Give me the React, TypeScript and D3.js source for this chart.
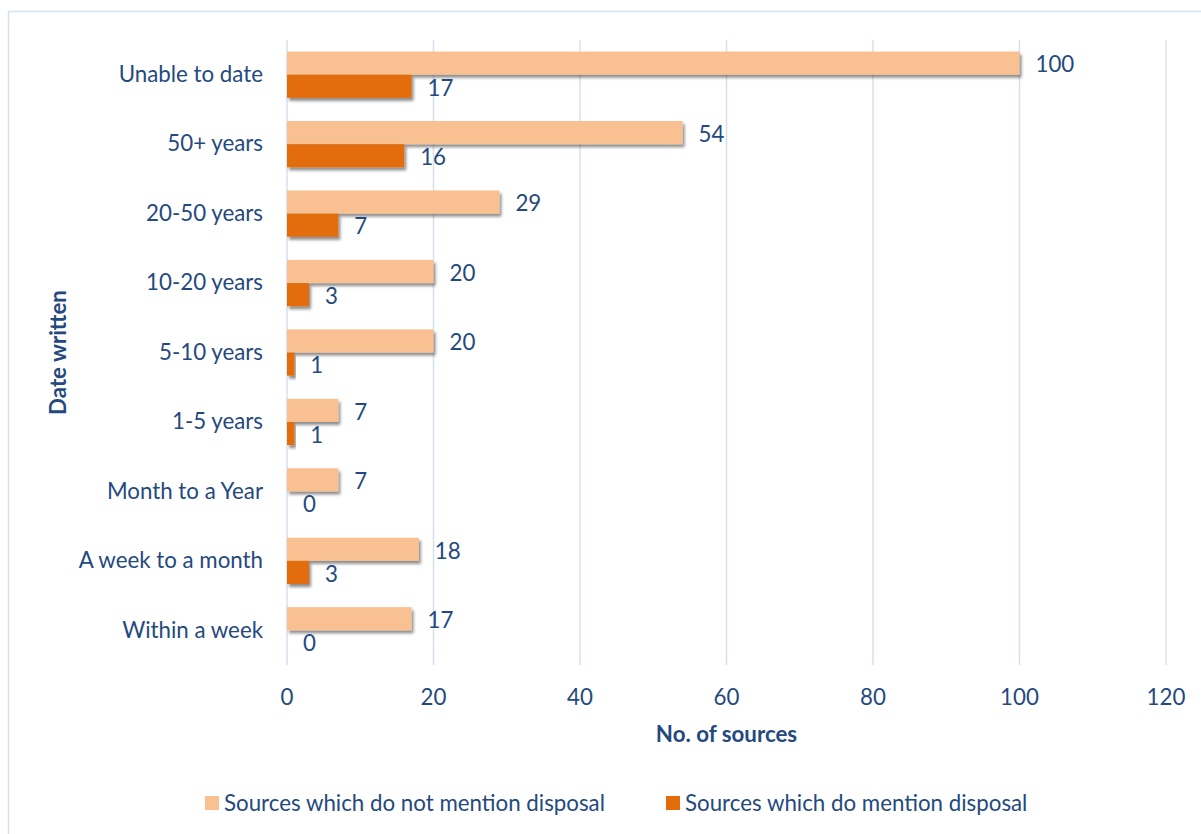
import React from "react";
import * as d3 from "d3";

const categories = [
  "Unable to date",
  "50+ years",
  "20-50 years",
  "10-20 years",
  "5-10 years",
  "1-5 years",
  "Month to a Year",
  "A week to a month",
  "Within a week",
];
const notMention = [100, 54, 29, 20, 20, 7, 7, 18, 17];
const doMention = [17, 16, 7, 3, 1, 1, 0, 3, 0];
const xTicks = [0, 20, 40, 60, 80, 100, 120];
const seriesNames = ["Sources which do not mention disposal", "Sources which do mention disposal"];

const W = 1201;
const H = 834;
const FONT = "Lato, 'Open Sans', sans-serif";
const FS = 22.3;
const TEXT = "#24497e";
const LIGHT = "#f9c091";
const DARK = "#e36c0a";
const GRID = "#d6e1f0";

export default function App() {
  const left = 287;
  const right = 1166;
  const top = 40;
  const bottom = 665;
  const x = d3.scaleLinear().domain([0, 120]).range([left, right]);
  const y = d3.scaleBand().domain(categories).range([top, bottom]).paddingInner(0).paddingOuter(0);
  const bw = y.bandwidth();
  const barH = bw / 3;
  const inner = d3.scaleBand().domain(["a", "b"]).range([bw / 6, bw - bw / 6]);

  return (
    <svg width={W} height={H} style={{ position: "absolute", left: 0, top: 0 }}>
      <defs>
        <filter id="sh" x="-10%" y="-50%" width="130%" height="250%">
          <feGaussianBlur in="SourceAlpha" stdDeviation="1.8" />
          <feOffset dx="2" dy="3" result="ob" />
          <feComponentTransfer>
            <feFuncA type="linear" slope="0.45" />
          </feComponentTransfer>
          <feMerge>
            <feMergeNode />
            <feMergeNode in="SourceGraphic" />
          </feMerge>
        </filter>
      </defs>
      <rect x={0} y={0} width={W} height={H} fill="#fff" />
      <rect x={8.5} y={11.5} width={W} height={H} fill="#fff" stroke={GRID} strokeWidth={1.5} />
      {xTicks.map((t) => (
        <line key={t} x1={x(t)} x2={x(t)} y1={top} y2={bottom} stroke={GRID} strokeWidth={1.5} />
      ))}
      {categories.map((c, i) => {
        const y0 = y(c)!;
        const ya = y0 + inner("a")!;
        const yb = y0 + inner("b")!;
        return (
          <g key={c}>
            <rect x={x(0)} y={ya} width={x(notMention[i]) - x(0)} height={barH} fill={LIGHT} filter="url(#sh)" />
            {doMention[i] > 0 && (
              <rect x={x(0)} y={yb} width={x(doMention[i]) - x(0)} height={barH} fill={DARK} filter="url(#sh)" />
            )}
            <text x={x(notMention[i]) + 16} y={ya + barH / 2 + 1.5} dy="0.35em" fill={TEXT} fontSize={FS} fontFamily={FONT}>
              {notMention[i]}
            </text>
            <text x={x(doMention[i]) + 16} y={yb + barH / 2 + 1.5} dy="0.35em" fill={TEXT} fontSize={FS} fontFamily={FONT}>
              {doMention[i]}
            </text>
            <text x={263} y={y0 + bw / 2 - 0.5} dy="0.35em" textAnchor="end" fill={TEXT} fontSize={FS} fontFamily={FONT}>
              {c}
            </text>
          </g>
        );
      })}
      {xTicks.map((t) => (
        <text key={t} x={x(t)} y={697} dy="0.35em" textAnchor="middle" fill={TEXT} fontSize={FS} fontFamily={FONT}>
          {t}
        </text>
      ))}
      <text x={(left + right) / 2} y={734} dy="0.35em" textAnchor="middle" fill={TEXT} fontSize={FS} fontWeight="bold" fontFamily={FONT}>
        No. of sources
      </text>
      <text
        transform={`translate(58, ${(top + bottom) / 2}) rotate(-90)`}
        dy="0.35em"
        textAnchor="middle"
        fill={TEXT}
        fontSize={FS}
        fontWeight="bold"
        fontFamily={FONT}
      >
        Date written
      </text>
      <rect x={205} y={796} width={14} height={14} fill={LIGHT} />
      <text x={224} y={803} dy="0.35em" fill={TEXT} fontSize={FS} fontFamily={FONT}>
        {seriesNames[0]}
      </text>
      <rect x={666} y={796} width={14} height={14} fill={DARK} />
      <text x={685} y={803} dy="0.35em" fill={TEXT} fontSize={FS} fontFamily={FONT}>
        {seriesNames[1]}
      </text>
    </svg>
  );
}
